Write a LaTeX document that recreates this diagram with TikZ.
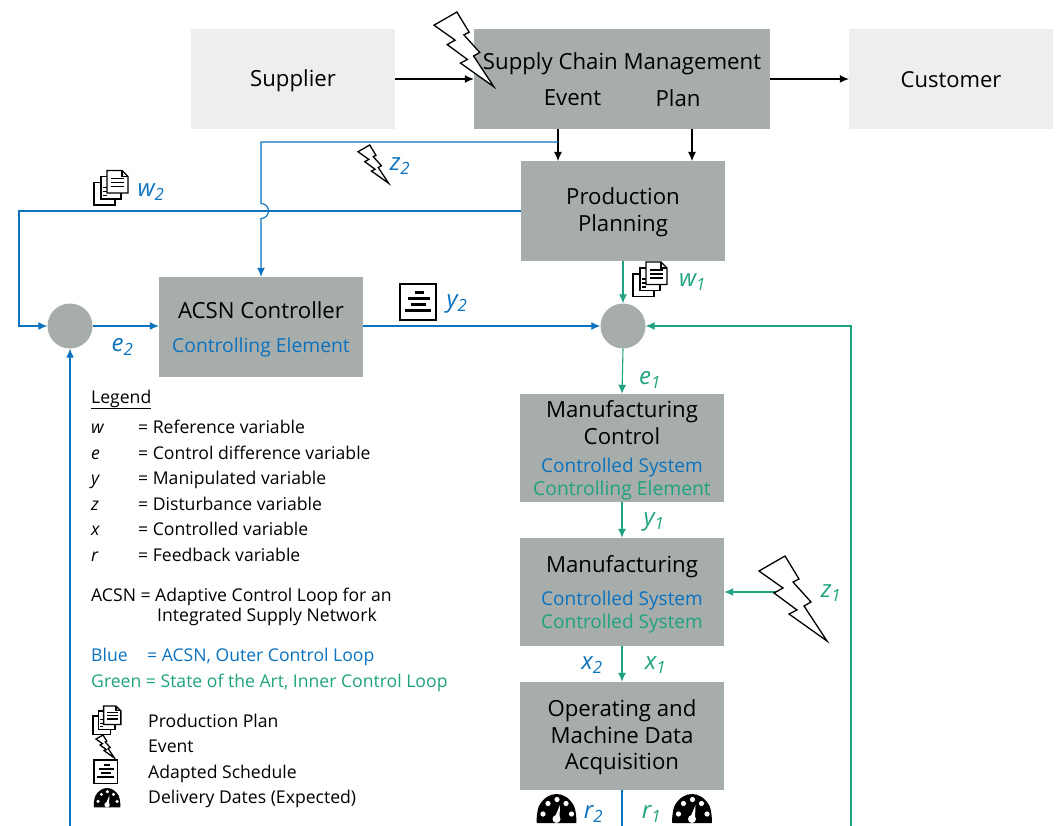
\documentclass[tikz,border=0pt]{standalone}
\usepackage{fontspec}
\setmainfont{Open Sans}
\definecolor{boxgray}{HTML}{A7ADAB}
\definecolor{lightgray}{HTML}{EDEFEE}
\definecolor{bluec}{HTML}{0A72BE}
\definecolor{greenc}{HTML}{1FA27F}
\newcommand{\fs}[1]{\fontsize{#1}{#1}\selectfont}
\usetikzlibrary{arrows.meta}
\tikzset{
  x=1pt,y=-1pt,
  lightbox/.style={fill=lightgray,draw=none,minimum width=204pt,minimum height=100pt,inner sep=0pt,font=\fs{22.2}},
  graybox/.style={fill=boxgray,draw=none,inner sep=0pt,align=center,font=\fs{22.2}},
  sumpt/.style={circle,fill=boxgray,draw=none,minimum size=45pt,inner sep=0pt},
  tip/.style={-{Latex[length=9pt,width=8pt]}},
  bl/.style={draw=bluec,line width=1.1pt,tip},
  gr/.style={draw=greenc,line width=1.1pt,tip},
  bk/.style={draw=black,line width=1.1pt,tip},
  lab/.style={font=\fs{24}\itshape,inner sep=0pt},
  leg/.style={anchor=base west,inner sep=0pt,font=\fs{17.6}},
  bolt/.pic={\draw[fill=white,line width=1.3pt,line join=miter,pic actions]
    (26,0)--(0,15)--(24,32)--(15,37)--(38,54)--(30,58)--(68,85)--(45,50)--(52,46)--(34,26)--(40,23)--cycle;},
  page/.style={draw=black,fill=white,line width=1.4pt},
  docs/.pic={
    \draw[page] (0,12)rectangle(21,34.5);
    \draw[page] (7,6)rectangle(27,28.5);
    \draw[page] (13,0)--(28,0)--(34,6)--(34,22.5)--(13,22.5)--cycle;
    \draw[line width=1.1pt] (28,0)--(28,6)--(34,6);
    \foreach \y in {8,12,16}{\draw[line width=1.3pt] (17,\y)--(30,\y);}
    \foreach \y in {17,21,25}{\draw[line width=1.1pt] (9,\y)--(12.5,\y);}
  },
  sched/.pic={
    \draw[fill=white,line width=1.8pt] (0,0) rectangle (36,36);
    \fill (15,6.5) rectangle (24,9.5);
    \fill (7.5,12.5) rectangle (30,15.5);
    \fill (11,18.5) rectangle (26,21.5);
    \fill (5,24.5) rectangle (31,27.5);
  },
  gauge/.pic={
    \fill (0,29)..controls (-1,29) and (0,16)..(2,12)..controls (6,4) and (13,0)..(19.5,0)
      ..controls (26,0) and (33,4)..(37,12)..controls (39,16) and (40,29)..(39,29)--cycle;
    \foreach \a/\b in {6/20,11/9.5,20/5.5,29/9.5,34.5/20}{\fill[white] (\a,\b) circle (2.6);}
    \fill[white] (19.5,25) circle (4);
    \fill[white] (17.5,24)--(23,11)--(22.5,24)--cycle;
  },
}
\begin{document}
\begin{tikzpicture}
\useasboundingbox (0,0) rectangle (1057,826);
\clip (0,0) rectangle (1057,826);
% boxes
\node[lightbox] (sup) at (293,79) {};
\node[font=\fs{22.2},inner sep=0pt] (supt) at (293,81) {Supplier};
\node[lightbox] (cust) at (951,79) {};
\node[font=\fs{22},inner sep=0pt] (custt) at (951,79.5) {Customer};
\node[graybox,minimum width=296pt,minimum height=100pt] (scm) at (622,79) {};
\node[font=\fs{22.2},inner sep=0pt] (scmt) at (622,64) {Supply Chain Management};
\node[font=\fs{22.2},inner sep=0pt] (ev) at (572.5,98) {Event};
\node[font=\fs{22.2},inner sep=0pt] (pl) at (678,98) {Plan};
\node[graybox,minimum width=204pt,minimum height=100pt] (pp) at (623,211) {};
\node[font=\fs{22.2},inner sep=0pt,align=center] (ppt) at (623,212.5) {Production\\[4.5pt]Planning};
\node[graybox,minimum width=204pt,minimum height=100pt] (acsn) at (261,327) {};
\node[font=\fs{22.2},inner sep=0pt] (acsnt) at (261,310) {ACSN Controller};
\node[font=\fs{19.3},text=bluec,inner sep=0pt] (acsne) at (261,347) {Controlling Element};
\node[sumpt] (s2) at (70,326) {};
\node[sumpt] (s1) at (623,326) {};
\node[graybox,minimum width=204pt,minimum height=108pt] (mc) at (622,448) {};
\node[font=\fs{22.2},inner sep=0pt,align=center] (mct) at (622,422.5) {Manufacturing\\[4.5pt]Control};
\node[font=\fs{19},text=bluec,inner sep=0pt] (mcb) at (622,467.5) {Controlled System};
\node[font=\fs{19.3},text=greenc,inner sep=0pt] (mcg) at (622,490.5) {Controlling Element};
\node[graybox,minimum width=204pt,minimum height=108pt] (mf) at (622,592) {};
\node[font=\fs{22.2},inner sep=0pt] (mft) at (622,567) {Manufacturing};
\node[font=\fs{19},text=bluec,inner sep=0pt] (mfb) at (622,600.5) {Controlled System};
\node[font=\fs{19},text=greenc,inner sep=0pt] (mfg) at (622,623.5) {Controlled System};
\node[graybox,minimum width=204pt,minimum height=108pt] (od) at (622,736) {};
\node[font=\fs{22.2},inner sep=0pt,align=center] (odt) at (622,737.5) {Operating and\\[4.5pt]Machine Data\\[4.5pt]Acquisition};
% black connectors
\draw[bk] (sup.east |- 0,79) -- (scm.west |- 0,79);
\draw[bk] (scm.east |- 0,79) -- (cust.west |- 0,79);
\draw[bk] (558,129) -- (558,161);
\draw[bk] (692,129) -- (692,161);
% blue
\draw[bl] (558,142) -- (261,142) -- (261,203.5) arc (-90:90:7.5) -- (acsn.north);
\draw[bl] (pp.west |- 0,211) -- (19,211) -- (19,326) -- (s2.west);
\draw[bl] (s2.east) -- (acsn.west |- 0,326);
\draw[bl] (acsn.east |- 0,326) -- (s1.west);
\draw[bl] (70,826) -- (s2.south);
\draw[draw=bluec,line width=1.1pt] (622,790) -- (622,826);
% green
\draw[gr] (pp.south) -- (s1.north);
\draw[gr] (s1.south) -- (mc.north);
\draw[gr] (mc.south) -- (mf.north);
\draw[gr] (mf.south) -- (od.north);
\draw[gr] (851,826) -- (851,326) -- (s1.east);
\draw[gr] (776,592) -- (mf.east |- 0,592);
% icons
\pic at (434,12) [scale=.88] {bolt};
\pic at (759,556) {bolt};
\pic at (358,145) [scale=.45] {bolt};
\pic at (96,735) [scale=.27] {bolt};
\pic at (94,170.5) {docs};
\pic at (633,262) {docs};
\pic at (93,706) [scale=.82] {docs};
\pic at (400,284) {sched};
\pic at (94,760) [scale=.65] {sched};
\pic at (537,794) {gauge};
\pic at (672.5,794) {gauge};
\pic at (94,788) [scale=.67] {gauge};
% variable labels
\node[lab,text=bluec] (w2) at (151,192) {w\textsubscript{2}};
\node[lab,text=bluec] (z2) at (400,166) {z\textsubscript{2}};
\node[lab,text=bluec] (e2) at (122.5,347) {e\textsubscript{2}};
\node[lab,text=bluec] (y2) at (457,304) {y\textsubscript{2}};
\node[lab,text=greenc] (w1) at (692.5,282) {w\textsubscript{1}};
\node[lab,text=greenc] (e1) at (650,380) {e\textsubscript{1}};
\node[lab,text=greenc] (y1) at (654,522) {y\textsubscript{1}};
\node[lab,text=greenc] (z1) at (831,593) {z\textsubscript{1}};
\node[lab,text=bluec] (x2) at (592,665) {x\textsubscript{2}};
\node[lab,text=greenc] (x1) at (655.5,665) {x\textsubscript{1}};
\node[lab,text=bluec] (r2) at (593.5,814) {r\textsubscript{2}};
\node[lab,text=greenc] (r1) at (651.5,814) {r\textsubscript{1}};
% legend
\node[leg] (lt) at (91,403) {\underline{Legend}};
\foreach \n/\y/\s/\t in {a/433/w/Reference variable,b/459/e/Control difference variable,c/484/y/Manipulated variable,d/510/z/Disturbance variable,f/535/x/Controlled variable,g/561/r/Feedback variable}{
  \node[leg] (ls\n) at (91,\y) {\itshape\s};
  \node[leg] (lt\n) at (138,\y) {= \t};
}
\node[leg] (an1) at (91,601) {ACSN = Adaptive Control Loop for an};
\node[leg] (an2) at (157,621) {Integrated Supply Network};
\node[leg,text=bluec] (bl1) at (91,661) {Blue};
\node[leg,text=bluec] (bl2) at (147,661) {= ACSN, Outer Control Loop};
\node[leg,text=greenc] (gn) at (91,687) {Green = State of the Art, Inner Control Loop};
\node[leg] (i1) at (148,727) {Production Plan};
\node[leg] (i2) at (148,752) {Event};
\node[leg] (i3) at (148,778) {Adapted Schedule};
\node[leg] (i4) at (148,803) {Delivery Dates (Expected)};
\end{tikzpicture}
\end{document}
